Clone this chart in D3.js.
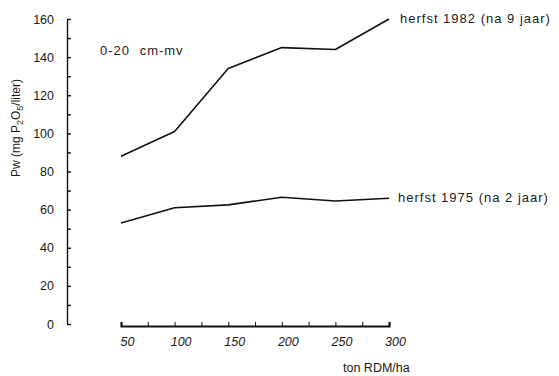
<!DOCTYPE html>
<html>
<head>
<meta charset="utf-8">
<script src="https://cdn.jsdelivr.net/npm/d3@7"></script>
<style>
  body { margin: 0; background: #fff; }
  svg { display: block; font-family: "Liberation Sans", Arial, sans-serif; }
  .lbl { fill: #1a1a1a; font-size: 12px; }
</style>
</head>
<body>
<div id="main"></div>
<script>
// data
const doses = [50, 100, 150, 200, 250, 300];          // ton RDM/ha
const pw1982 = [88, 101, 134, 145, 144, 160];         // herfst 1982 (na 9 jaar)
const pw1975 = [53, 61, 62.5, 66.5, 64.5, 66];        // herfst 1975 (na 2 jaar)
const yTicks = [0, 20, 40, 60, 80, 100, 120, 140, 160];
const xTicks = [50, 100, 150, 200, 250, 300];

const ctx = { w: 559, h: 376 };

function createViz(){
    let svgEl = d3.select("#main").append("svg")
        .attr("width", ctx.w).attr("height", ctx.h);
    let g = svgEl.append("g");

    ctx.xScale = d3.scaleLinear().domain([50, 300]).range([121, 389]);
    ctx.yScale = d3.scaleLinear().domain([0, 160]).range([324, 19]);

    // y axis: minor ticks every 10, labels every 20
    let yAx = g.append("g").attr("transform", "translate(67,0)");
    yAx.call(d3.axisLeft(ctx.yScale).tickValues(d3.range(0, 161, 10))
            .tickSizeInner(-4).tickSizeOuter(0).tickFormat(""));
    yAx.selectAll("path,line").attr("stroke", "#111").attr("stroke-width", 1.4);
    let yLab = g.append("g").attr("transform", "translate(67,0)");
    yLab.call(d3.axisLeft(ctx.yScale).tickValues(yTicks).tickSize(0).tickPadding(13));
    yLab.select(".domain").remove();
    yLab.selectAll("text").attr("class", "lbl").style("font-size", "12.5px")
        .attr("font-family", null);

    // x axis: ticks every 25, labels every 50
    let xAx = g.append("g").attr("transform", "translate(0,326)");
    xAx.call(d3.axisBottom(ctx.xScale).tickValues(d3.range(50, 301, 25))
            .tickSizeInner(-4).tickSizeOuter(-4).tickFormat(""));
    xAx.selectAll("path,line").attr("stroke", "#111");
    xAx.select(".domain").attr("stroke-width", 2.2);
    let xLab = g.append("g").attr("transform", "translate(0,326)");
    xLab.call(d3.axisBottom(ctx.xScale).tickValues(xTicks).tickSize(0).tickPadding(11));
    xLab.select(".domain").remove();
    xLab.selectAll("text").attr("class", "lbl").attr("dx", 6)
        .style("font-size", "12.5px").style("font-style", "italic").attr("font-family", null);

    // lines
    let line = d3.line().x((d, i) => ctx.xScale(doses[i])).y(d => ctx.yScale(d));
    [pw1982, pw1975].forEach(s => {
        g.append("path").datum(s).attr("d", line)
            .attr("fill", "none").attr("stroke", "#111").attr("stroke-width", 1.6)
            .attr("stroke-linejoin", "round");
    });

    // annotations
    g.append("text").attr("class", "lbl").attr("x", 400).attr("y", ctx.yScale(160) + 4)
        .style("font-size", "13px").style("letter-spacing", "1px").text("herfst 1982 (na 9 jaar)");
    g.append("text").attr("class", "lbl").attr("x", 398).attr("y", ctx.yScale(66) + 4)
        .style("font-size", "13px").style("letter-spacing", "1px").text("herfst 1975 (na 2 jaar)");
    g.append("text").attr("class", "lbl").attr("x", 100).attr("y", 55)
        .style("font-size", "13px").style("letter-spacing", "1px").style("word-spacing", "5px")
        .text("0-20 cm-mv");
    g.append("text").attr("class", "lbl").attr("x", 343).attr("y", 372)
        .style("font-size", "12.5px").text("ton RDM/ha");

    // y label
    let yl = g.append("text").attr("class", "lbl")
        .attr("transform", "translate(20,128) rotate(-90)")
        .attr("text-anchor", "middle").style("font-size", "12px");
    yl.append("tspan").text("Pw (mg P");
    yl.append("tspan").attr("dy", 3).style("font-size", "9px").text("2");
    yl.append("tspan").attr("dy", -3).text("O");
    yl.append("tspan").attr("dy", 3).style("font-size", "9px").text("5");
    yl.append("tspan").attr("dy", -3).text("/liter)");
}

createViz();
</script>
</body>
</html>
